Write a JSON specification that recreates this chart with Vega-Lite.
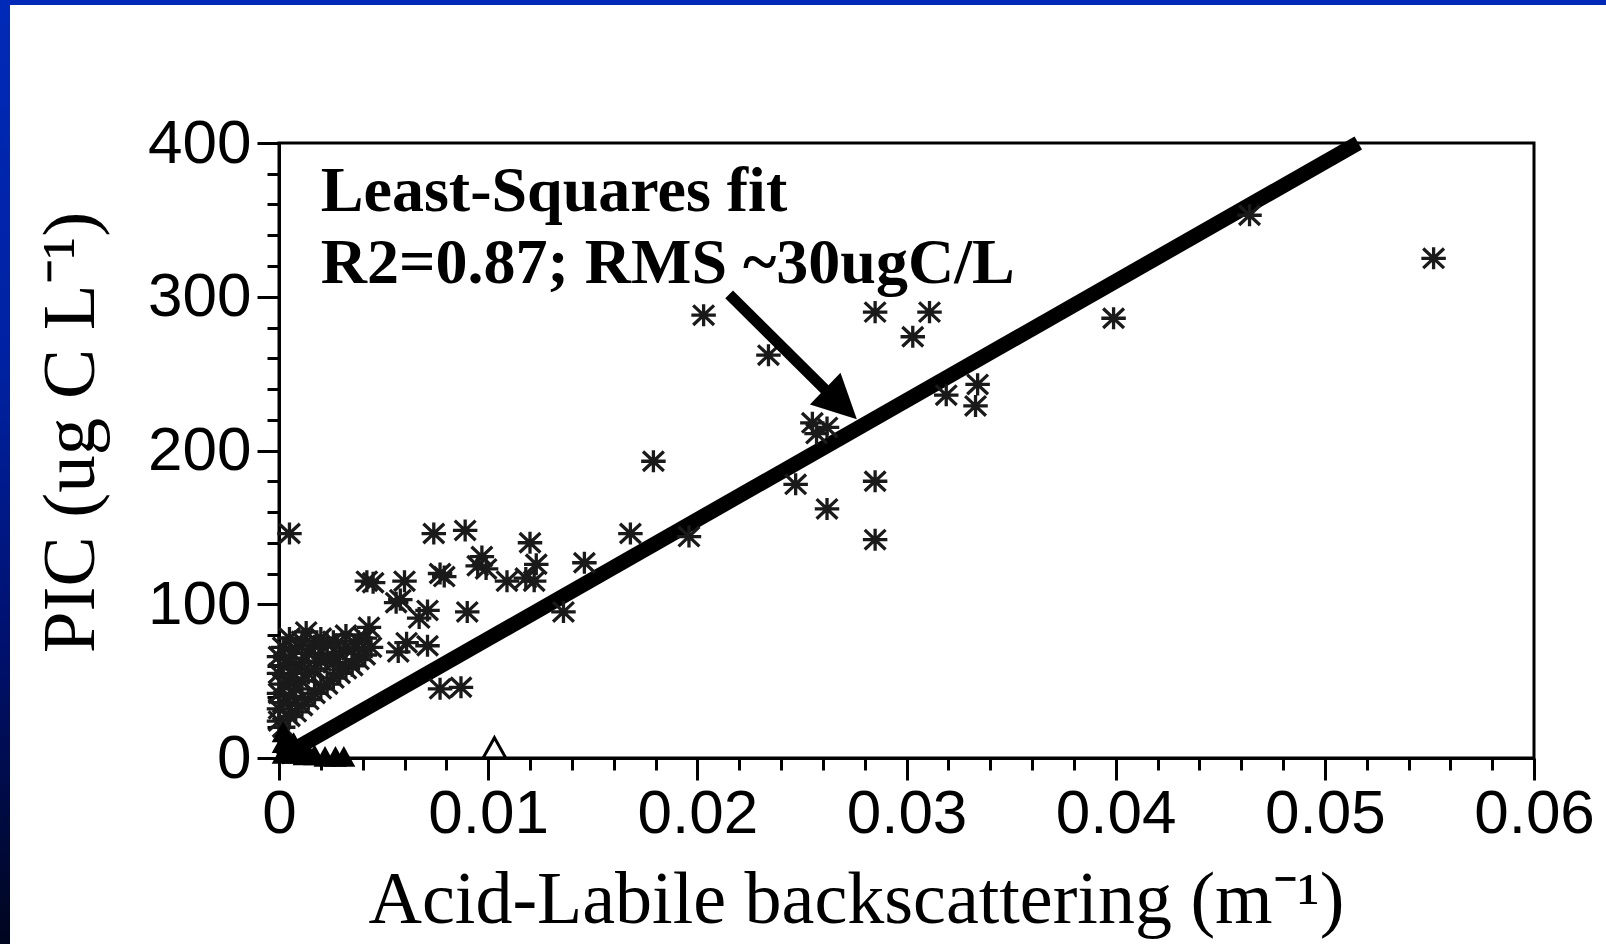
{
  "$schema": "https://vega.github.io/schema/vega-lite/v6.json",
  "padding": {"left": 0, "top": 0, "right": 14, "bottom": 10},
  "background": "white",
  "spacing": 0,
  "bounds": "flush",
  "config": {
    "view": {"stroke": "black", "strokeWidth": 3},
    "axis": {
      "grid": false,
      "domainColor": "black", "domainWidth": 3,
      "tickColor": "black", "tickWidth": 3,
      "labelColor": "black", "labelFont": "Liberation Sans", "labelFontSize": 62,
      "titleColor": "black", "titleFont": "Liberation Serif", "titleFontSize": 75, "titleFontWeight": "normal"
    }
  },
  "hconcat": [
    {
      "width": 10, "height": 944,
      "data": {"values": [{}]},
      "mark": {"type": "text", "text": "", "align": "left", "baseline": "top", "fontSize": 1},
      "view": {"stroke": null, "fill": {"gradient": "linear", "x1": 0, "y1": 0, "x2": 0, "y2": 1, "stops": [{"offset": 0, "color": "#002AB8"}, {"offset": 0.4, "color": "#0021A0"}, {"offset": 0.7, "color": "#00106A"}, {"offset": 1, "color": "#00061E"}]}}
    },
    {
      "spacing": 138,
      "bounds": "flush",
      "vconcat": [
        {
          "width": 1596, "height": 5,
          "data": {"values": [{}]},
          "mark": {"type": "text", "text": "", "align": "left", "baseline": "top", "fontSize": 1},
          "view": {"stroke": null, "fill": "#0029B8"}
        },
        {
          "spacing": 0,
          "bounds": "flush",
          "hconcat": [
            {
              "width": 269, "height": 615,
              "data": {"values": [{}]},
              "mark": {"type": "text", "text": "", "align": "left", "baseline": "top", "fontSize": 1},
              "view": {"stroke": null}
            },
            {
              "width": 1255,
              "height": 615,
              "encoding": {
                "x": {
                  "field": "x", "type": "quantitative",
                  "scale": {"domain": [0, 0.06], "nice": false, "zero": false},
                  "axis": {
                    "title": "Acid-Labile backscattering (m⁻¹)",
                    "values": [0, 0.002, 0.004, 0.006, 0.008, 0.01, 0.012, 0.014, 0.016, 0.018, 0.02, 0.022, 0.024, 0.026, 0.028, 0.03, 0.032, 0.034, 0.036, 0.038, 0.04, 0.042, 0.044, 0.046, 0.048, 0.05, 0.052, 0.054, 0.056, 0.058, 0.06],
                    "tickSize": {"condition": {"test": "abs(datum.value*100 - round(datum.value*100)) < 0.000001", "value": 22}, "value": 12},
                    "labelExpr": "abs(datum.value*100 - round(datum.value*100)) < 0.000001 ? format(datum.value, '.2~f') : ''",
                    "labelPadding": 3, "labelOverlap": false, "labelFlush": false, "labelBound": false,
                    "titleFontSize": 74,
                    "titleX": 577, "titleY": 164, "titleAlign": "center", "titleBaseline": "alphabetic"
                  }
                },
                "y": {
                  "field": "y", "type": "quantitative",
                  "scale": {"domain": [0, 400], "nice": false, "zero": false},
                  "axis": {
                    "title": "PIC (ug C L⁻¹)",
                    "values": [0, 20, 40, 60, 80, 100, 120, 140, 160, 180, 200, 220, 240, 260, 280, 300, 320, 340, 360, 380, 400],
                    "tickSize": {"condition": {"test": "datum.value % 100 === 0", "value": 22}, "value": 12},
                    "labelExpr": "datum.value % 100 === 0 ? format(datum.value, 'd') : ''",
                    "labelPadding": 6, "labelOverlap": false, "labelFlush": false, "labelBound": false,
                    "titleX": -186, "titleY": 289, "titleAngle": -90, "titleAlign": "center", "titleBaseline": "alphabetic"
                  }
                }
              },
              "layer": [
                {
                  "data": {"values": [{"x": 0, "y": 0}, {"x": 0.0516, "y": 400}]},
                  "mark": {"type": "line", "color": "black", "strokeWidth": 15, "clip": false}
                },
                {
                  "data": {"values": [
                    {"x": 0, "y": 24}, {"x": 0, "y": 32}, {"x": 0, "y": 42}, {"x": 0, "y": 55}, {"x": 0, "y": 66},
                    {"x": 0.0002, "y": 20}, {"x": 0.0002, "y": 36}, {"x": 0.0002, "y": 48}, {"x": 0.0002, "y": 60}, {"x": 0.0002, "y": 72},
                    {"x": 0.0005, "y": 27}, {"x": 0.0005, "y": 40}, {"x": 0.0005, "y": 52}, {"x": 0.0005, "y": 65}, {"x": 0.0005, "y": 78},
                    {"x": 0.0008, "y": 30}, {"x": 0.0008, "y": 45}, {"x": 0.0008, "y": 58}, {"x": 0.0008, "y": 71},
                    {"x": 0.0011, "y": 34}, {"x": 0.0011, "y": 50}, {"x": 0.0011, "y": 62}, {"x": 0.0011, "y": 76},
                    {"x": 0.0013, "y": 82},
                    {"x": 0.0014, "y": 38}, {"x": 0.0014, "y": 55}, {"x": 0.0014, "y": 68},
                    {"x": 0.0017, "y": 42}, {"x": 0.0017, "y": 58}, {"x": 0.0017, "y": 73},
                    {"x": 0.002, "y": 45}, {"x": 0.002, "y": 63}, {"x": 0.002, "y": 78},
                    {"x": 0.0023, "y": 48}, {"x": 0.0023, "y": 66}, {"x": 0.0023, "y": 74},
                    {"x": 0.0026, "y": 52}, {"x": 0.0026, "y": 62}, {"x": 0.0026, "y": 76},
                    {"x": 0.0029, "y": 55}, {"x": 0.0029, "y": 68},
                    {"x": 0.0032, "y": 58}, {"x": 0.0032, "y": 72}, {"x": 0.0032, "y": 80},
                    {"x": 0.0035, "y": 60}, {"x": 0.0035, "y": 70},
                    {"x": 0.0038, "y": 64}, {"x": 0.0038, "y": 76},
                    {"x": 0.0041, "y": 67}, {"x": 0.0041, "y": 78},
                    {"x": 0.0044, "y": 72},
                    {"x": 0.0005, "y": 146}, {"x": 0.0042, "y": 115}, {"x": 0.0045, "y": 114}, {"x": 0.006, "y": 115},
                    {"x": 0.0077, "y": 120}, {"x": 0.0079, "y": 118}, {"x": 0.0074, "y": 146}, {"x": 0.0089, "y": 148},
                    {"x": 0.0097, "y": 131}, {"x": 0.0099, "y": 123}, {"x": 0.0095, "y": 125}, {"x": 0.0109, "y": 115},
                    {"x": 0.0122, "y": 115}, {"x": 0.0118, "y": 117}, {"x": 0.0123, "y": 126}, {"x": 0.012, "y": 140},
                    {"x": 0.0146, "y": 127}, {"x": 0.0056, "y": 101}, {"x": 0.0058, "y": 103}, {"x": 0.0071, "y": 96},
                    {"x": 0.0067, "y": 91}, {"x": 0.009, "y": 95}, {"x": 0.0136, "y": 95}, {"x": 0.0043, "y": 85},
                    {"x": 0.0057, "y": 69}, {"x": 0.0071, "y": 73}, {"x": 0.0061, "y": 75}, {"x": 0.0077, "y": 45},
                    {"x": 0.0087, "y": 46}, {"x": 0.0168, "y": 146}, {"x": 0.0196, "y": 144}, {"x": 0.0179, "y": 193},
                    {"x": 0.0203, "y": 288}, {"x": 0.0234, "y": 262}, {"x": 0.0285, "y": 290}, {"x": 0.0311, "y": 290},
                    {"x": 0.0303, "y": 274}, {"x": 0.0334, "y": 243}, {"x": 0.0319, "y": 236}, {"x": 0.0333, "y": 229},
                    {"x": 0.0255, "y": 218}, {"x": 0.0262, "y": 215}, {"x": 0.0257, "y": 211}, {"x": 0.0247, "y": 178},
                    {"x": 0.0285, "y": 180}, {"x": 0.0262, "y": 162}, {"x": 0.0285, "y": 142}, {"x": 0.0399, "y": 286},
                    {"x": 0.0464, "y": 353}, {"x": 0.0552, "y": 325}
                  ]},
                  "mark": {"type": "point", "shape": "M0,-0.9L0,0.9M-1,0L1,0M-0.85,-0.8L0.85,0.8M-0.85,0.8L0.85,-0.8", "filled": false, "size": 600, "strokeWidth": 3.3, "color": "#1a1a1a", "opacity": 1, "clip": false}
                },
                {
                  "data": {"values": [
                    {"x": 0.0002, "y": 3}, {"x": 0.0002, "y": 10}, {"x": 0.0002, "y": 17}, {"x": 0.0007, "y": 3},
                    {"x": 0.0007, "y": 10}, {"x": 0.0012, "y": 2}, {"x": 0.0012, "y": 8}, {"x": 0.0017, "y": 2},
                    {"x": 0.0022, "y": 1}, {"x": 0.0027, "y": 1}, {"x": 0.0031, "y": 1}
                  ]},
                  "mark": {"type": "point", "shape": "M0,-0.9L1,0.9L-1,0.9Z", "filled": true, "size": 529, "strokeWidth": 0, "color": "black", "opacity": 1, "clip": false}
                },
                {
                  "data": {"values": [{"x": 0.0103, "y": 6.5}]},
                  "mark": {"type": "point", "shape": "M0,-0.9L1,0.9L-1,0.9Z", "filled": false, "size": 529, "strokeWidth": 3, "color": "black", "opacity": 1, "clip": false}
                },
                {
                  "data": {"values": [{"x": 0.02152, "y": 301.6, "x2": 0.02634, "y2": 236.5}]},
                  "mark": {"type": "rule", "color": "black", "strokeWidth": 11},
                  "encoding": {"x2": {"field": "x2"}, "y2": {"field": "y2"}}
                },
                {
                  "data": {"values": [{"x": 0.02687, "y": 230.3}]},
                  "mark": {"type": "point", "shape": "M0,-1L1,1L-1,1Z", "filled": true, "size": 1936, "angle": 134, "color": "black", "strokeWidth": 0, "opacity": 1}
                },
                {
                  "data": {"values": [
                    {"label": "Least-Squares fit", "x": 0.002, "y": 355.7},
                    {"label": "R2=0.87; RMS ~30ugC/L", "x": 0.002, "y": 309}
                  ]},
                  "mark": {"type": "text", "align": "left", "baseline": "alphabetic", "font": "Liberation Serif", "fontWeight": "bold", "fontSize": 64, "color": "black"},
                  "encoding": {"text": {"field": "label"}}
                }
              ]
            }
          ]
        }
      ]
    }
  ]
}
